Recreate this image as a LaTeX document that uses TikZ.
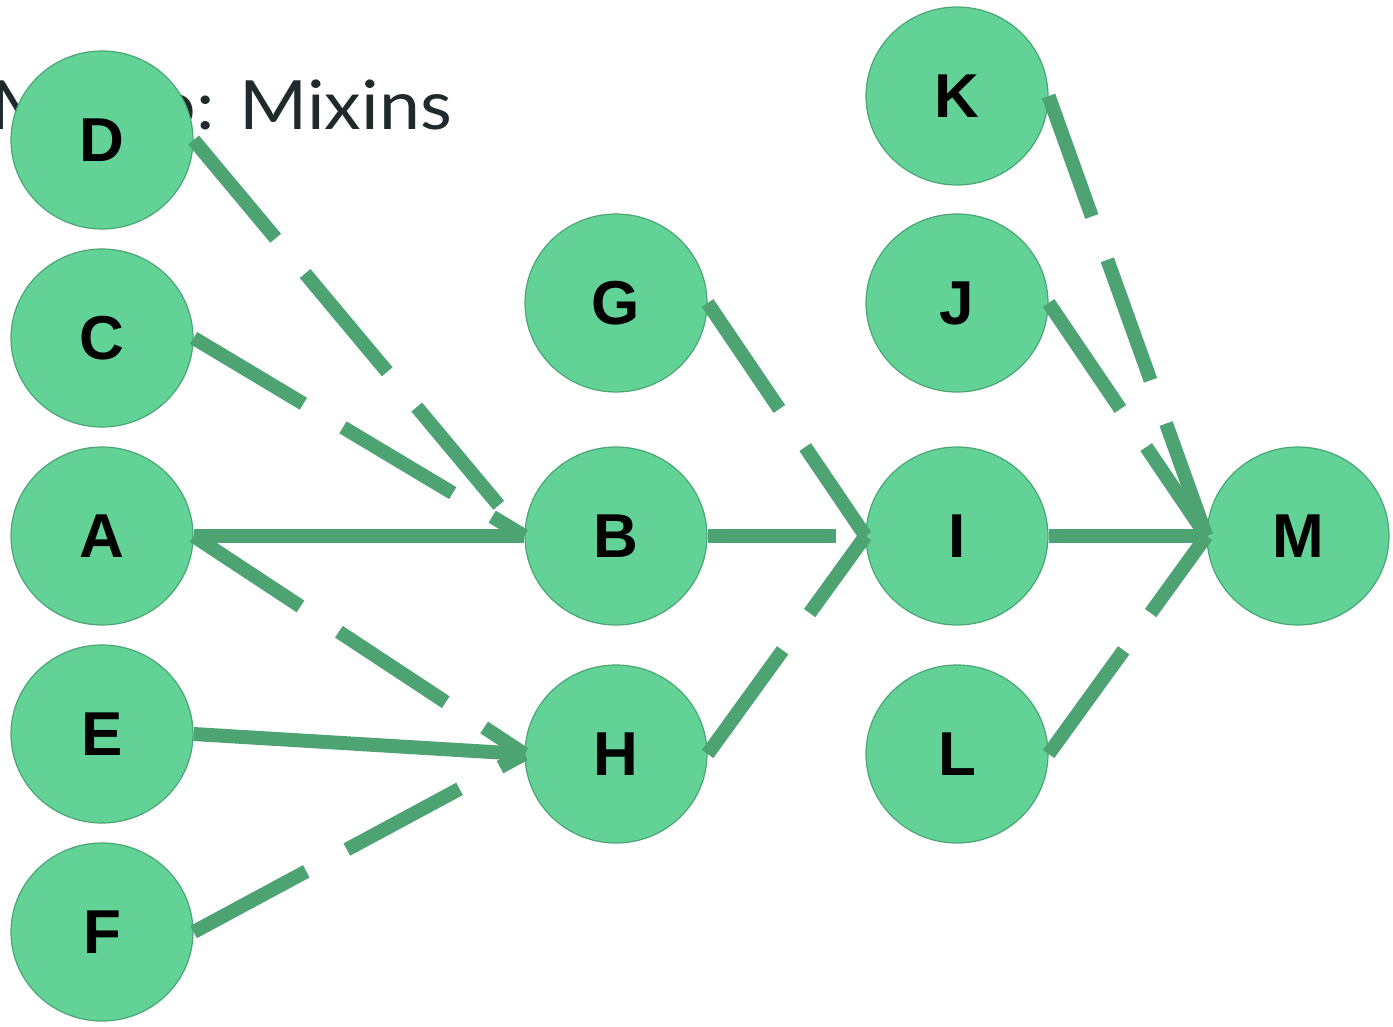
\documentclass[tikz,border=0pt]{standalone}
\usepackage{fontspec}
\usepackage{xcolor}
\usepackage{tikz}
\usetikzlibrary{shapes,arrows,positioning,arrows.meta}

\newfontfamily\labelfamily{Liberation Sans}
\newfontfamily\titlefamily{Lato}[FakeStretch=1.08]
\newcommand{\labelfont}{\labelfamily\bfseries\fontsize{62}{62}\selectfont}
\newcommand{\titlefont}{\titlefamily\fontsize{68}{68}\selectfont}

\definecolor{nodefill}{HTML}{63D297}
\definecolor{nodeline}{HTML}{4BA673}
\definecolor{edgecol}{HTML}{4DA372}
\definecolor{titlecol}{HTML}{1F2A2C}

\begin{document}
\begin{tikzpicture}[x=1pt, y=-1pt, auto, node distance=198pt,
    main/.style={ellipse,draw=nodeline,line width=1.2pt,fill=nodefill,minimum width=182pt,minimum height=178pt,inner sep=0pt,font=\labelfont},
    link/.style={draw=edgecol,line width=14pt},
    dashlink/.style={link,dash pattern=on 128pt off 46pt}]
    \useasboundingbox (0,0) rectangle (1393,1027);

    \node[anchor=base east,text=titlecol,font=\titlefont,inner sep=0pt] (title) at (452,130) {Macro: Mixins};

    % first column
    \node[main] (A) at (102,536) {A};
    \node[main] (C) [above of=A] {C};
    \node[main] (D) [above of=C] {D};
    \node[main] (E) [below of=A] {E};
    \node[main] (F) [below of=E] {F};

    % middle columns
    \node[main] (B) at (616,536) {B};
    \node[main] (G) at (616,303) {G};
    \node[main] (H) at (616,754) {H};
    \node[main] (I) at (957,536) {I};
    \node[main] (J) at (957,303) {J};
    \node[main] (K) at (957,96) {K};
    \node[main] (L) at (957,754) {L};
    \node[main] (M) at (1298,536) {M};

    \path
    (D.east) edge[dashlink] (B.west)
    (C.east) edge[dashlink] (B.west)
    (A.east) edge[link] (B.west)
    (A.east) edge[dashlink] (H.west)
    (E.east) edge[link] (H.west)
    (F.east) edge[dashlink] (H.west)
    (G.east) edge[dashlink] (I.west)
    (B.east) edge[dashlink] (I.west)
    (H.east) edge[dashlink] (I.west)
    (K.east) edge[dashlink] (M.west)
    (J.east) edge[dashlink] (M.west)
    (I.east) edge[link] (M.west)
    (L.east) edge[dashlink] (M.west);
\end{tikzpicture}
\end{document}
